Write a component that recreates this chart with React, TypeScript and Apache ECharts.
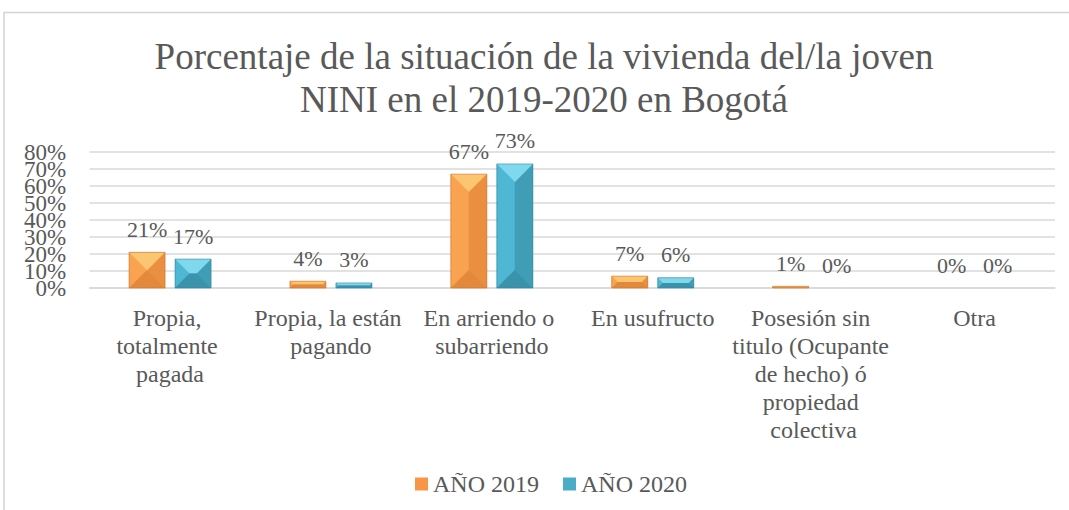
import React, { useEffect, useRef } from "react";
import * as echarts from "echarts";

const categories = [
  "Propia, totalmente pagada",
  "Propia, la están pagando",
  "En arriendo o subarriendo",
  "En usufructo",
  "Posesión sin titulo (Ocupante de hecho) ó propiedad colectiva",
  "Otra",
];
const values2019 = [21, 4, 67, 7, 1, 0];
const values2020 = [17, 3, 73, 6, 0, 0];
const seriesNames = ["AÑO 2019", "AÑO 2020"];
const titleText = "Porcentaje de la situación de la vivienda del/la joven\nNINI en el 2019-2020 en Bogotá";

const FONT = "Liberation Serif";
const TEXT_COLOR = "#595959";

type Palette = { base: string; top: string; left: string; right: string; bottom: string; edge: string };
const orange: Palette = { base: "#F79646", top: "#FCC572", left: "#F9A24F", right: "#EA8E3F", bottom: "#E3893B", edge: "#C8722C" };
const teal: Palette = { base: "#4BACC6", top: "#80D8EF", left: "#4EB7D3", right: "#3F9DB6", bottom: "#3A93AB", edge: "#2F8099" };

function makeRender(sign: number, pal: Palette) {
  return (params: any, api: any) => {
    const idx = api.value(0);
    const val = api.value(1);
    const band = api.size([1, 0])[0];
    const bw = band * 0.224;
    const off = band * 0.143 * sign;
    const top = api.coord([idx, val]);
    const base = api.coord([idx, 0]);
    const cx = top[0] + off;
    const x0 = cx - bw / 2;
    const x1 = cx + bw / 2;
    const y0 = top[1];
    const y1 = base[1];
    const h = y1 - y0;
    const children: any[] = [];
    if (h > 0.01) {
      const b = Math.min(bw / 2, h / 2);
      children.push({ type: "rect", shape: { x: x0, y: y0, width: bw, height: h }, style: { fill: pal.base } });
      children.push({ type: "polygon", shape: { points: [[x0, y0], [x0 + b, y0 + b], [x0 + b, y1 - b], [x0, y1]] }, style: { fill: pal.left } });
      children.push({ type: "polygon", shape: { points: [[x1, y0], [x1 - b, y0 + b], [x1 - b, y1 - b], [x1, y1]] }, style: { fill: pal.right } });
      children.push({ type: "polygon", shape: { points: [[x0, y0], [x1, y0], [x1 - b, y0 + b], [x0 + b, y0 + b]] }, style: { fill: pal.top } });
      children.push({ type: "polygon", shape: { points: [[x0, y1], [x1, y1], [x1 - b, y1 - b], [x0 + b, y1 - b]] }, style: { fill: pal.bottom } });
      children.push({ type: "rect", shape: { x: x0, y: y0, width: bw, height: h }, style: { fill: "none", stroke: pal.edge, lineWidth: 0.8, opacity: 0.7 } });
    }
    children.push({
      type: "text",
      x: cx,
      y: y0 - 12,
      style: {
        text: val + "%",
        align: "center",
        verticalAlign: "bottom",
        fontSize: 22,
        fontFamily: FONT,
        fill: TEXT_COLOR,
      },
    });
    return { type: "group", children };
  };
}

const yLabelStyle = {
  fontSize: 23,
  lineHeight: 14,
  fontFamily: FONT,
  color: TEXT_COLOR,
  margin: 23.5,
};

export default function App() {
  const ref = useRef<HTMLDivElement>(null);
  useEffect(() => {
    if (!ref.current) return;
    const chart = echarts.init(ref.current, null, { renderer: "svg" });
    chart.setOption({
      animation: false,
      backgroundColor: "#ffffff",
      textStyle: { fontFamily: FONT },
      graphic: [
        {
          type: "rect",
          z: -10,
          silent: true,
          shape: { x: 4, y: 12.5, width: 1100, height: 600 },
          style: { fill: "none", stroke: "#d4d4d4", lineWidth: 1.5 },
        },
        {
          type: "text",
          x: 544,
          y: 35,
          style: {
            text: titleText,
            align: "center",
            verticalAlign: "top",
            fontSize: 37,
            lineHeight: 43,
            fontFamily: FONT,
            fill: TEXT_COLOR,
          },
        },
      ],
      legend: {
        data: seriesNames,
        left: 410,
        top: 467,
        icon: "rect",
        itemWidth: 13,
        itemHeight: 13,
        itemGap: 24,
        textStyle: { fontSize: 24, fontFamily: FONT, color: TEXT_COLOR },
      },
      grid: { left: 89.6, right: 14, top: 152, bottom: 222, containLabel: false },
      xAxis: {
        type: "category",
        data: categories,
        axisLine: { show: true, lineStyle: { color: "#d9d9d9", width: 1.5 } },
        axisTick: { show: false },
        axisLabel: {
          interval: 0,
          fontSize: 24,
          fontFamily: FONT,
          color: TEXT_COLOR,
          lineHeight: 28,
          width: 168,
          overflow: "break",
          margin: 16,
        },
      },
      yAxis: [
        {
          type: "value",
          min: 0,
          max: 80,
          interval: 10,
          axisLine: { show: false },
          axisTick: { show: false },
          splitLine: { lineStyle: { color: "#d9d9d9", width: 1.5 } },
          axisLabel: {
            ...yLabelStyle,
            formatter: (v: number) => (v % 20 === 0 ? v + "%" : ""),
          },
        },
        {
          type: "value",
          position: "left",
          offset: 0,
          min: 0,
          max: 80,
          interval: 10,
          axisLine: { show: false },
          axisTick: { show: false },
          splitLine: { show: false },
          axisLabel: {
            ...yLabelStyle,
            formatter: (v: number) => (v % 20 !== 0 ? v + "%" : ""),
          },
        },
      ],
      series: [
        {
          name: seriesNames[0],
          type: "custom",
          renderItem: makeRender(-1, orange),
          encode: { x: 0, y: 1 },
          itemStyle: { color: orange.base },
          data: values2019.map((v, i) => [i, v]),
          clip: false,
        },
        {
          name: seriesNames[1],
          type: "custom",
          renderItem: makeRender(1, teal),
          encode: { x: 0, y: 1 },
          itemStyle: { color: teal.base },
          data: values2020.map((v, i) => [i, v]),
          clip: false,
        },
      ],
    });
    return () => chart.dispose();
  }, []);
  return (
    <div
      ref={ref}
      style={{ position: "fixed", left: 0, top: 0, width: 1069, height: 510 }}
    />
  );
}
